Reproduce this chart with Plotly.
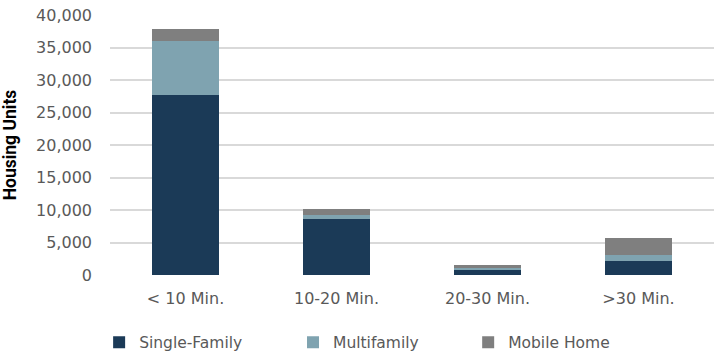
import plotly.graph_objects as go

categories = ["< 10 Min.", "10-20 Min.", "20-30 Min.", ">30 Min."]
single_family = [27650, 8580, 900, 2200]
multifamily = [8300, 680, 150, 900]
mobile_home = [1900, 870, 520, 2620]

series = [("Single-Family", single_family, "#1B3A57", "legend"),
          ("Multifamily", multifamily, "#7FA3B0", "legend2"),
          ("Mobile Home", mobile_home, "#7F7F7F", "legend3")]

fig = go.Figure()
for name, vals, color, leg in series:
    fig.add_trace(go.Bar(x=categories, y=vals, name=name, marker_color=color,
                         marker_line_width=0, width=0.44, legend=leg))

legfont = dict(family="DejaVu Sans", size=15.5, color="#595959")
def leg(x):
    return dict(orientation="h", x=x, xanchor="left", y=-0.26, yanchor="middle",
                font=legfont, bgcolor="rgba(0,0,0,0)")

fig.update_layout(
    barmode="stack",
    width=724, height=353,
    margin=dict(l=110, r=10, t=15, b=78, autoexpand=False),
    paper_bgcolor="white", plot_bgcolor="white",
    font=dict(family="DejaVu Sans", size=16, color="#595959"),
    showlegend=True,
    legend=leg(-0.018),
    legend2=leg(0.303),
    legend3=leg(0.593),
    yaxis=dict(range=[0, 40000], dtick=5000, tickformat=",", showgrid=True,
               gridcolor="#D9D9D9", gridwidth=1.5, zeroline=False, ticks="",
               ticklabelstandoff=17,
               title=dict(text="<b>Housing Units</b>",
                          font=dict(family="Roboto", size=17.5, color="#000000"), standoff=18)),
    xaxis=dict(showline=False, ticks="", ticklabelstandoff=12),
)
fig.write_html("out.html")
